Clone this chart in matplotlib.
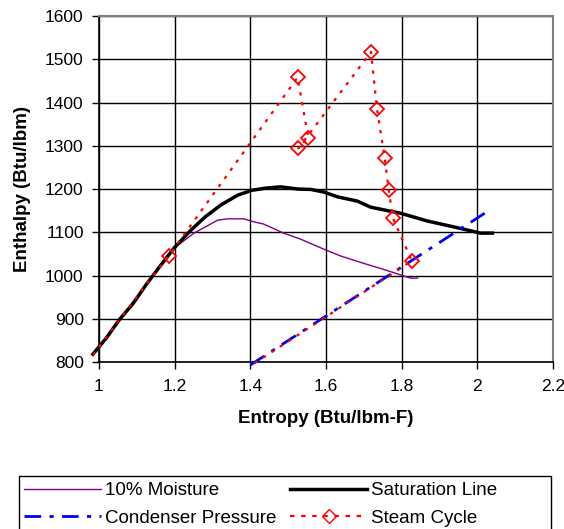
import matplotlib
matplotlib.use('Agg')
import matplotlib.pyplot as plt
from matplotlib.lines import Line2D
from matplotlib.patches import Rectangle

plt.rcParams['font.family'] = ['Liberation Sans', 'DejaVu Sans']

# Saturation line (Entropy, Enthalpy)
sat_s = [0.984, 1.02, 1.053, 1.09, 1.124, 1.16, 1.198, 1.243, 1.28, 1.322, 1.367,
         1.404, 1.44, 1.48, 1.525, 1.56, 1.594, 1.63, 1.683, 1.718, 1.797, 1.868,
         1.955, 2.008, 2.04]
sat_h = [818, 856, 897, 935, 978, 1020, 1063, 1105, 1135, 1163, 1186,
         1197, 1202, 1205, 1200, 1199, 1193, 1182, 1172, 1158, 1144, 1126,
         1109, 1098, 1098]

# 10% moisture line
moist_s = [0.984, 1.053, 1.124, 1.198, 1.251, 1.314, 1.34, 1.383, 1.41, 1.435,
           1.488, 1.533, 1.594, 1.639, 1.70, 1.76, 1.823, 1.842]
moist_h = [818, 897, 978, 1063, 1098, 1128, 1131, 1131, 1124, 1119,
           1098, 1084, 1061, 1045, 1028, 1012, 994, 994]

# Condenser pressure line
cond_s = [1.40, 2.03]
cond_h = [793, 1150]

# Steam cycle path
cyc_s = [0.984, 1.053, 1.124, 1.184, 1.525, 1.553, 1.527, 1.719, 1.735, 1.755,
         1.766, 1.777, 1.827, 1.404]
cyc_h = [816, 897, 978, 1045, 1458, 1319, 1294, 1517, 1384, 1272,
         1197, 1132, 1034, 793]
cyc_marked = [3, 4, 5, 6, 7, 8, 9, 10, 11, 12]

fig = plt.figure(figsize=(5.64, 5.29), dpi=100)
ax = fig.add_axes([0.1755, 0.3157, 0.805, 0.654])

ax.plot(moist_s, moist_h, color='#800080', lw=1.0, clip_on=False, zorder=3)
ax.plot(sat_s, sat_h, color='black', lw=2.5, clip_on=False, zorder=4)
ax.plot(cond_s, cond_h, color='blue', lw=2.0, linestyle=(0, (6, 3, 1.5, 3)),
        clip_on=False, zorder=5)
ax.plot(cyc_s, cyc_h, color='red', lw=1.6, linestyle=(0, (1.5, 3)),
        marker='D', markersize=7, markerfacecolor='none', markeredgecolor='red',
        markeredgewidth=1.3, markevery=cyc_marked, clip_on=False, zorder=6)

ax.set_xlim(1, 2.2)
ax.set_ylim(800, 1600)
ax.set_xticks([1, 1.2, 1.4, 1.6, 1.8, 2, 2.2])
ax.set_xticklabels(['1', '1.2', '1.4', '1.6', '1.8', '2', '2.2'])
ax.set_yticks(range(800, 1601, 100))
ax.grid(True, color='black', lw=1.0)
ax.set_axisbelow(True)
for side in ['top', 'right']:
    ax.spines[side].set_color('#808080')
    ax.spines[side].set_linewidth(1.5)
for side in ['left', 'bottom']:
    ax.spines[side].set_linewidth(1.2)
ax.tick_params(axis='both', labelsize=12.5, length=5, width=1, color='black')
ax.tick_params(axis='x', pad=7)
ax.tick_params(axis='y', pad=6)

ax.set_xlabel('Entropy (Btu/lbm-F)', fontsize=13.5, fontweight='bold', labelpad=12)
ax.set_ylabel('Enthalpy (Btu/lbm)', fontsize=13.5, fontweight='bold', labelpad=10)

handles = [
    Line2D([], [], color='#800080', lw=1.0),
    Line2D([], [], color='blue', lw=2.0, linestyle=(0, (6, 3, 1.5, 3))),
    Line2D([], [], color='black', lw=2.5),
    Line2D([], [], color='red', lw=1.6, linestyle=(0, (2, 3)), marker='D',
           markersize=7, markerfacecolor='none', markeredgecolor='red'),
]
labels = ['10% Moisture', 'Condenser Pressure', 'Saturation Line', 'Steam Cycle']
leg = fig.legend(handles, labels, ncol=2, loc='upper left',
                 bbox_to_anchor=(24 / 564, 1 - 482 / 529),
                 fontsize=13.5, frameon=False, handlelength=4.1,
                 handletextpad=0.2, borderpad=0, labelspacing=0.55,
                 columnspacing=0.75, borderaxespad=0)

# legend box, its lower edge runs off the bottom of the image
fig.patches.append(Rectangle((19 / 564, -0.05), 532 / 564, 1 - 476 / 529 + 0.05,
                             transform=fig.transFigure, fill=False,
                             edgecolor='black', lw=1.0))

fig.savefig('out.png', dpi=100)
